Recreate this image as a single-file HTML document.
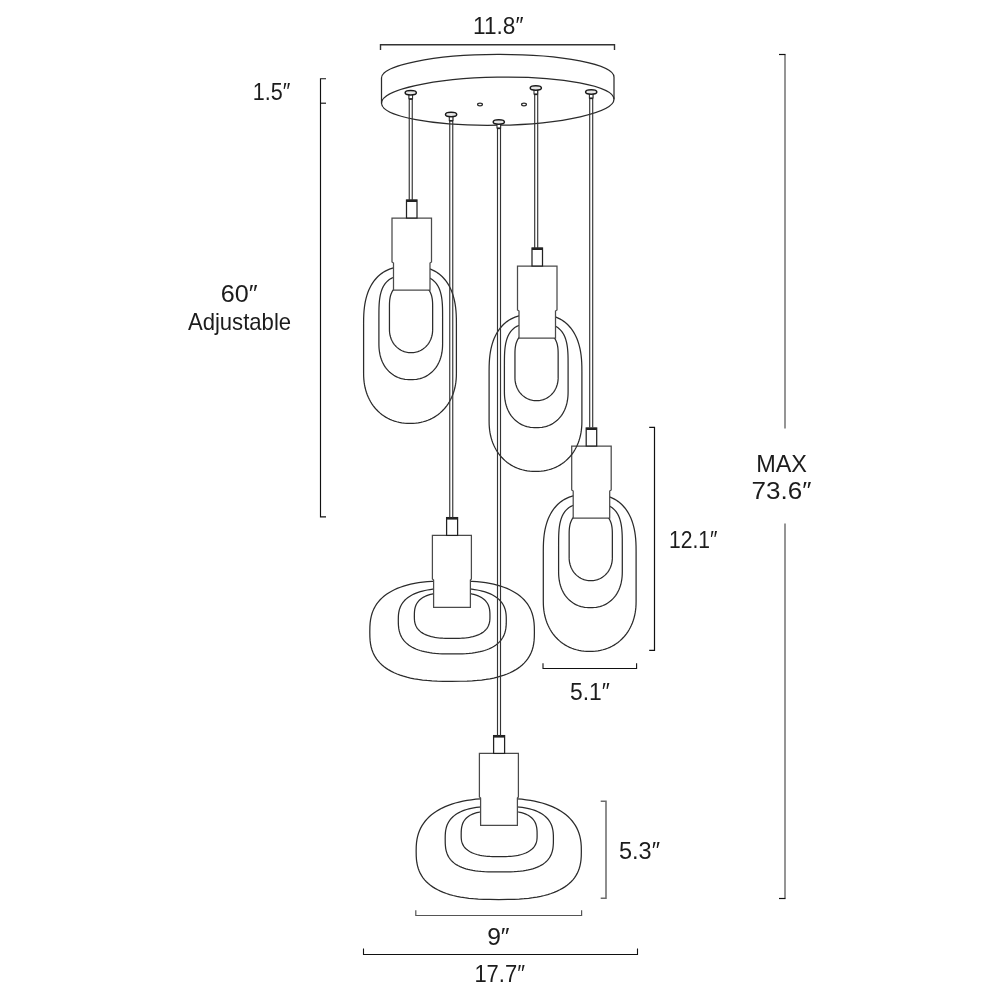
<!DOCTYPE html>
<html><head><meta charset="utf-8"><style>
html,body{margin:0;padding:0;background:#fff;width:1000px;height:1000px;overflow:hidden}
svg{display:block;will-change:transform}
.l{fill:none;stroke:#2b2b2b;stroke-width:1.25}
.s{fill:#fff;stroke:#2b2b2b;stroke-width:1.25}
.r{stroke:#333;stroke-width:1.15}
text{font-family:"Liberation Sans",sans-serif;fill:#1c1c1c}
</style></head><body>
<svg width="1000" height="1000" viewBox="0 0 1000 1000">
<path d="M381.5,103.2 L381.5,78 A116.25,23.15 -0.2 0 1 614,77.2 L614,99.2" class="l" stroke-width="1.4"/>
<ellipse cx="497.75" cy="101.2" rx="116.25" ry="24.05" transform="rotate(-1 497.75 101.2)" class="l" stroke-width="1.4"/>
<ellipse cx="480" cy="104.5" rx="2.4" ry="1.3" class="l" stroke-width="1"/>
<ellipse cx="524" cy="104.5" rx="2.4" ry="1.3" class="l" stroke-width="1"/>
<g transform="translate(0,0)">
<path d="M363.60,323.73 L363.65,318.24 L363.80,314.20 L364.06,310.58 L364.41,307.24 L364.86,304.09 L365.42,301.11 L366.07,298.28 L366.83,295.58 L367.68,293.00 L368.62,290.55 L369.67,288.21 L370.81,285.98 L372.04,283.87 L373.37,281.87 L374.80,279.99 L376.31,278.22 L377.92,276.57 L379.62,275.04 L381.41,273.62 L383.29,272.32 L385.27,271.14 L387.34,270.09 L389.52,269.15 L391.80,268.34 L394.20,267.65 L396.73,267.09 L399.42,266.65 L402.33,266.33 L405.58,266.14 L410.00,266.08 L414.42,266.14 L417.67,266.33 L420.58,266.65 L423.27,267.09 L425.80,267.65 L428.20,268.34 L430.48,269.15 L432.66,270.09 L434.73,271.14 L436.71,272.32 L438.59,273.62 L440.38,275.04 L442.08,276.57 L443.69,278.22 L445.20,279.99 L446.63,281.87 L447.96,283.87 L449.19,285.98 L450.33,288.21 L451.38,290.55 L452.32,293.00 L453.17,295.58 L453.93,298.28 L454.58,301.11 L455.14,304.09 L455.59,307.24 L455.94,310.58 L456.20,314.20 L456.35,318.24 L456.40,323.73 L456.40,373.26 L456.34,376.48 L456.16,379.39 L455.87,382.18 L455.46,384.88 L454.93,387.51 L454.28,390.06 L453.53,392.55 L452.66,394.96 L451.68,397.29 L450.59,399.55 L449.39,401.73 L448.10,403.82 L446.70,405.82 L445.20,407.74 L443.61,409.55 L441.93,411.27 L440.16,412.89 L438.30,414.40 L436.37,415.80 L434.35,417.09 L432.26,418.26 L430.10,419.32 L427.86,420.26 L425.56,421.08 L423.20,421.77 L420.76,422.34 L418.26,422.79 L415.68,423.10 L412.98,423.30 L410.00,423.36 L407.02,423.30 L404.32,423.10 L401.74,422.79 L399.24,422.34 L396.80,421.77 L394.44,421.08 L392.14,420.26 L389.90,419.32 L387.74,418.26 L385.65,417.09 L383.63,415.80 L381.70,414.40 L379.84,412.89 L378.07,411.27 L376.39,409.55 L374.80,407.74 L373.30,405.82 L371.90,403.82 L370.61,401.73 L369.41,399.55 L368.32,397.29 L367.34,394.96 L366.47,392.55 L365.72,390.06 L365.07,387.51 L364.54,384.88 L364.13,382.18 L363.84,379.39 L363.66,376.48 L363.60,373.26 Z" class="l"/>
<path d="M378.90,317.46 L378.93,310.85 L379.01,307.27 L379.15,304.33 L379.34,301.77 L379.58,299.46 L379.89,297.35 L380.24,295.39 L380.66,293.57 L381.12,291.86 L381.65,290.26 L382.23,288.77 L382.86,287.36 L383.56,286.04 L384.31,284.81 L385.12,283.66 L385.99,282.59 L386.93,281.60 L387.92,280.69 L388.99,279.85 L390.13,279.08 L391.34,278.39 L392.63,277.77 L394.01,277.23 L395.50,276.76 L397.10,276.36 L398.85,276.04 L400.80,275.78 L403.02,275.60 L405.74,275.50 L410.75,275.46 L415.76,275.50 L418.48,275.60 L420.70,275.78 L422.65,276.04 L424.40,276.36 L426.00,276.76 L427.49,277.23 L428.87,277.77 L430.16,278.39 L431.37,279.08 L432.51,279.85 L433.58,280.69 L434.57,281.60 L435.51,282.59 L436.38,283.66 L437.19,284.81 L437.94,286.04 L438.64,287.36 L439.27,288.77 L439.85,290.26 L440.38,291.86 L440.84,293.57 L441.26,295.39 L441.61,297.35 L441.92,299.46 L442.16,301.77 L442.35,304.33 L442.49,307.27 L442.57,310.85 L442.60,317.46 L442.60,343.58 L442.56,346.05 L442.44,348.21 L442.24,350.26 L441.97,352.24 L441.61,354.14 L441.18,355.99 L440.67,357.78 L440.09,359.51 L439.43,361.19 L438.70,362.80 L437.89,364.36 L437.02,365.85 L436.08,367.28 L435.07,368.63 L433.99,369.92 L432.85,371.14 L431.66,372.29 L430.40,373.35 L429.08,374.34 L427.71,375.26 L426.29,376.08 L424.81,376.83 L423.28,377.49 L421.70,378.07 L420.07,378.56 L418.39,378.96 L416.65,379.28 L414.84,379.50 L412.93,379.64 L410.75,379.68 L408.57,379.64 L406.66,379.50 L404.85,379.28 L403.11,378.96 L401.43,378.56 L399.80,378.07 L398.22,377.49 L396.69,376.83 L395.21,376.08 L393.79,375.26 L392.42,374.34 L391.10,373.35 L389.84,372.29 L388.65,371.14 L387.51,369.92 L386.43,368.63 L385.42,367.28 L384.48,365.85 L383.61,364.36 L382.80,362.80 L382.07,361.19 L381.41,359.51 L380.83,357.78 L380.32,355.99 L379.89,354.14 L379.53,352.24 L379.26,350.26 L379.06,348.21 L378.94,346.05 L378.90,343.58 Z" class="l"/>
<path d="M389.45,306.56 L389.47,303.95 L389.54,302.21 L389.65,300.69 L389.80,299.32 L390.00,298.04 L390.24,296.85 L390.52,295.72 L390.85,294.66 L391.22,293.65 L391.63,292.69 L392.09,291.78 L392.59,290.92 L393.13,290.11 L393.71,289.35 L394.34,288.63 L395.01,287.96 L395.72,287.33 L396.48,286.75 L397.28,286.21 L398.12,285.72 L399.02,285.28 L399.96,284.88 L400.95,284.53 L402.00,284.23 L403.11,283.97 L404.30,283.76 L405.58,283.59 L407.00,283.47 L408.62,283.40 L411.05,283.38 L413.48,283.40 L415.10,283.47 L416.52,283.59 L417.80,283.76 L418.99,283.97 L420.10,284.23 L421.15,284.53 L422.14,284.88 L423.08,285.28 L423.98,285.72 L424.82,286.21 L425.62,286.75 L426.38,287.33 L427.09,287.96 L427.76,288.63 L428.39,289.35 L428.97,290.11 L429.51,290.92 L430.01,291.78 L430.47,292.69 L430.88,293.65 L431.25,294.66 L431.58,295.72 L431.86,296.85 L432.10,298.04 L432.30,299.32 L432.45,300.69 L432.56,302.21 L432.63,303.95 L432.65,306.56 L432.65,329.58 L432.62,330.88 L432.53,332.13 L432.39,333.36 L432.19,334.57 L431.93,335.76 L431.62,336.93 L431.25,338.07 L430.83,339.18 L430.35,340.27 L429.82,341.33 L429.24,342.35 L428.62,343.33 L427.94,344.28 L427.22,345.19 L426.45,346.05 L425.65,346.87 L424.80,347.64 L423.91,348.37 L422.99,349.04 L422.03,349.66 L421.05,350.22 L420.03,350.73 L418.99,351.18 L417.92,351.58 L416.83,351.91 L415.72,352.19 L414.59,352.40 L413.44,352.56 L412.26,352.65 L411.05,352.68 L409.84,352.65 L408.66,352.56 L407.51,352.40 L406.38,352.19 L405.27,351.91 L404.18,351.58 L403.11,351.18 L402.07,350.73 L401.05,350.22 L400.07,349.66 L399.11,349.04 L398.19,348.37 L397.30,347.64 L396.45,346.87 L395.65,346.05 L394.88,345.19 L394.16,344.28 L393.48,343.33 L392.86,342.35 L392.28,341.33 L391.75,340.27 L391.27,339.18 L390.85,338.07 L390.48,336.93 L390.17,335.76 L389.91,334.57 L389.71,333.36 L389.57,332.13 L389.48,330.88 L389.45,329.58 Z" class="l"/>
<path d="M392,262 L392,218 L431.5,218 L431.5,262 L430,263 L430,290 L393.5,290 L393.5,263 Z" class="s" stroke="#4a4a4a" style="stroke:#4a4a4a"/>
<rect x="406.5" y="200" width="10.5" height="18" class="s" style="stroke:#222;stroke-width:1.25"/>
<line x1="406.5" y1="200.9" x2="417" y2="200.9" stroke="#222" stroke-width="2.2"/>
</g>
<path d="M369.80,632.00 L369.89,626.61 L370.14,622.87 L370.57,619.58 L371.18,616.56 L371.95,613.75 L372.89,611.11 L374.01,608.61 L375.29,606.23 L376.74,603.98 L378.36,601.84 L380.14,599.80 L382.09,597.87 L384.21,596.05 L386.49,594.32 L388.93,592.70 L391.54,591.18 L394.31,589.76 L397.24,588.45 L400.34,587.23 L403.62,586.12 L407.06,585.12 L410.68,584.21 L414.50,583.42 L418.52,582.72 L422.77,582.14 L427.29,581.66 L432.13,581.28 L437.42,581.01 L443.44,580.85 L452.10,580.80 L460.76,580.85 L466.78,581.01 L472.07,581.28 L476.91,581.66 L481.43,582.14 L485.68,582.72 L489.70,583.42 L493.52,584.21 L497.14,585.12 L500.58,586.12 L503.86,587.23 L506.96,588.45 L509.89,589.76 L512.66,591.18 L515.27,592.70 L517.71,594.32 L519.99,596.05 L522.11,597.87 L524.06,599.80 L525.84,601.84 L527.46,603.98 L528.91,606.23 L530.19,608.61 L531.31,611.11 L532.25,613.75 L533.02,616.56 L533.63,619.58 L534.06,622.87 L534.31,626.61 L534.40,632.00 L534.40,632.00 L534.31,637.28 L534.06,640.91 L533.63,644.09 L533.03,647.00 L532.27,649.71 L531.33,652.25 L530.22,654.66 L528.95,656.94 L527.51,659.10 L525.90,661.16 L524.13,663.11 L522.19,664.96 L520.09,666.71 L517.82,668.36 L515.40,669.92 L512.80,671.37 L510.05,672.73 L507.13,673.99 L504.04,675.15 L500.78,676.21 L497.35,677.17 L493.73,678.04 L489.92,678.80 L485.91,679.46 L481.66,680.02 L477.14,680.48 L472.29,680.84 L466.97,681.10 L460.91,681.25 L452.10,681.30 L443.29,681.25 L437.23,681.10 L431.91,680.84 L427.06,680.48 L422.54,680.02 L418.29,679.46 L414.28,678.80 L410.47,678.04 L406.85,677.17 L403.42,676.21 L400.16,675.15 L397.07,673.99 L394.15,672.73 L391.40,671.37 L388.80,669.92 L386.38,668.36 L384.11,666.71 L382.01,664.96 L380.07,663.11 L378.30,661.16 L376.69,659.10 L375.25,656.94 L373.98,654.66 L372.87,652.25 L371.93,649.71 L371.17,647.00 L370.57,644.09 L370.14,640.91 L369.89,637.28 L369.80,632.00 Z" class="l"/>
<path d="M398.30,620.10 L398.36,616.68 L398.52,614.33 L398.80,612.28 L399.19,610.41 L399.69,608.67 L400.31,607.03 L401.03,605.49 L401.86,604.02 L402.80,602.63 L403.86,601.31 L405.01,600.06 L406.28,598.87 L407.66,597.75 L409.14,596.69 L410.73,595.70 L412.42,594.76 L414.23,593.89 L416.14,593.09 L418.16,592.34 L420.30,591.66 L422.54,591.04 L424.91,590.49 L427.41,590.00 L430.04,589.58 L432.83,589.22 L435.80,588.92 L438.98,588.69 L442.48,588.53 L446.47,588.43 L452.30,588.40 L458.13,588.43 L462.12,588.53 L465.62,588.69 L468.80,588.92 L471.77,589.22 L474.56,589.58 L477.19,590.00 L479.69,590.49 L482.06,591.04 L484.30,591.66 L486.44,592.34 L488.46,593.09 L490.37,593.89 L492.18,594.76 L493.87,595.70 L495.46,596.69 L496.94,597.75 L498.32,598.87 L499.59,600.06 L500.74,601.31 L501.80,602.63 L502.74,604.02 L503.57,605.49 L504.29,607.03 L504.91,608.67 L505.41,610.41 L505.80,612.28 L506.08,614.33 L506.24,616.68 L506.30,620.10 L506.30,620.10 L506.25,623.90 L506.08,626.44 L505.81,628.65 L505.42,630.66 L504.93,632.52 L504.33,634.26 L503.62,635.90 L502.80,637.46 L501.88,638.93 L500.84,640.33 L499.70,641.65 L498.45,642.90 L497.10,644.08 L495.64,645.20 L494.07,646.25 L492.40,647.23 L490.62,648.14 L488.73,648.99 L486.73,649.77 L484.62,650.48 L482.39,651.13 L480.03,651.71 L477.55,652.22 L474.93,652.67 L472.14,653.04 L469.17,653.35 L465.96,653.59 L462.44,653.76 L458.37,653.87 L452.30,653.90 L446.23,653.87 L442.16,653.76 L438.64,653.59 L435.43,653.35 L432.46,653.04 L429.67,652.67 L427.05,652.22 L424.57,651.71 L422.21,651.13 L419.98,650.48 L417.87,649.77 L415.87,648.99 L413.98,648.14 L412.20,647.23 L410.53,646.25 L408.96,645.20 L407.50,644.08 L406.15,642.90 L404.90,641.65 L403.76,640.33 L402.72,638.93 L401.80,637.46 L400.98,635.90 L400.27,634.26 L399.67,632.52 L399.18,630.66 L398.79,628.65 L398.52,626.44 L398.35,623.90 L398.30,620.10 Z" class="l"/>
<path d="M414.35,616.40 L414.39,613.40 L414.50,611.52 L414.68,609.93 L414.93,608.50 L415.26,607.18 L415.66,605.96 L416.13,604.82 L416.67,603.74 L417.29,602.73 L417.98,601.77 L418.74,600.86 L419.57,600.01 L420.48,599.20 L421.46,598.45 L422.51,597.74 L423.64,597.08 L424.84,596.46 L426.12,595.89 L427.47,595.36 L428.91,594.89 L430.43,594.45 L432.04,594.06 L433.75,593.72 L435.57,593.42 L437.51,593.17 L439.60,592.97 L441.87,592.81 L444.40,592.69 L447.38,592.62 L452.15,592.60 L456.92,592.62 L459.90,592.69 L462.43,592.81 L464.70,592.97 L466.79,593.17 L468.73,593.42 L470.55,593.72 L472.26,594.06 L473.87,594.45 L475.39,594.89 L476.83,595.36 L478.18,595.89 L479.46,596.46 L480.66,597.08 L481.79,597.74 L482.84,598.45 L483.82,599.20 L484.73,600.01 L485.56,600.86 L486.32,601.77 L487.01,602.73 L487.63,603.74 L488.17,604.82 L488.64,605.96 L489.04,607.18 L489.37,608.50 L489.62,609.93 L489.80,611.52 L489.91,613.40 L489.95,616.40 L489.95,616.40 L489.91,618.77 L489.79,620.40 L489.60,621.82 L489.32,623.12 L488.97,624.33 L488.55,625.47 L488.04,626.54 L487.46,627.56 L486.80,628.52 L486.06,629.44 L485.25,630.31 L484.36,631.13 L483.40,631.91 L482.36,632.65 L481.25,633.34 L480.06,633.98 L478.80,634.59 L477.46,635.15 L476.05,635.66 L474.55,636.14 L472.98,636.56 L471.32,636.95 L469.57,637.29 L467.73,637.58 L465.78,637.83 L463.70,638.04 L461.47,638.20 L459.03,638.31 L456.23,638.38 L452.15,638.40 L448.07,638.38 L445.27,638.31 L442.83,638.20 L440.60,638.04 L438.52,637.83 L436.57,637.58 L434.73,637.29 L432.98,636.95 L431.32,636.56 L429.75,636.14 L428.25,635.66 L426.84,635.15 L425.50,634.59 L424.24,633.98 L423.05,633.34 L421.94,632.65 L420.90,631.91 L419.94,631.13 L419.05,630.31 L418.24,629.44 L417.50,628.52 L416.84,627.56 L416.26,626.54 L415.75,625.47 L415.33,624.33 L414.98,623.12 L414.70,621.82 L414.51,620.40 L414.39,618.77 L414.35,616.40 Z" class="l"/>
<g transform="translate(0,0)">
<path d="M432.4,579 L432.4,535.4 L471.4,535.4 L471.4,579 L470.4,580 L470.4,607.4 L433.6,607.4 L433.6,580 Z" class="s" stroke="#4a4a4a" style="stroke:#4a4a4a"/>
<rect x="446.6" y="517.6" width="11.0" height="17.799999999999955" class="s" style="stroke:#222;stroke-width:1.25"/>
<line x1="446.6" y1="518.5" x2="457.6" y2="518.5" stroke="#222" stroke-width="2.2"/>
</g>
<g transform="translate(179.7,228)">
<path d="M363.60,323.73 L363.65,318.24 L363.80,314.20 L364.06,310.58 L364.41,307.24 L364.86,304.09 L365.42,301.11 L366.07,298.28 L366.83,295.58 L367.68,293.00 L368.62,290.55 L369.67,288.21 L370.81,285.98 L372.04,283.87 L373.37,281.87 L374.80,279.99 L376.31,278.22 L377.92,276.57 L379.62,275.04 L381.41,273.62 L383.29,272.32 L385.27,271.14 L387.34,270.09 L389.52,269.15 L391.80,268.34 L394.20,267.65 L396.73,267.09 L399.42,266.65 L402.33,266.33 L405.58,266.14 L410.00,266.08 L414.42,266.14 L417.67,266.33 L420.58,266.65 L423.27,267.09 L425.80,267.65 L428.20,268.34 L430.48,269.15 L432.66,270.09 L434.73,271.14 L436.71,272.32 L438.59,273.62 L440.38,275.04 L442.08,276.57 L443.69,278.22 L445.20,279.99 L446.63,281.87 L447.96,283.87 L449.19,285.98 L450.33,288.21 L451.38,290.55 L452.32,293.00 L453.17,295.58 L453.93,298.28 L454.58,301.11 L455.14,304.09 L455.59,307.24 L455.94,310.58 L456.20,314.20 L456.35,318.24 L456.40,323.73 L456.40,373.26 L456.34,376.48 L456.16,379.39 L455.87,382.18 L455.46,384.88 L454.93,387.51 L454.28,390.06 L453.53,392.55 L452.66,394.96 L451.68,397.29 L450.59,399.55 L449.39,401.73 L448.10,403.82 L446.70,405.82 L445.20,407.74 L443.61,409.55 L441.93,411.27 L440.16,412.89 L438.30,414.40 L436.37,415.80 L434.35,417.09 L432.26,418.26 L430.10,419.32 L427.86,420.26 L425.56,421.08 L423.20,421.77 L420.76,422.34 L418.26,422.79 L415.68,423.10 L412.98,423.30 L410.00,423.36 L407.02,423.30 L404.32,423.10 L401.74,422.79 L399.24,422.34 L396.80,421.77 L394.44,421.08 L392.14,420.26 L389.90,419.32 L387.74,418.26 L385.65,417.09 L383.63,415.80 L381.70,414.40 L379.84,412.89 L378.07,411.27 L376.39,409.55 L374.80,407.74 L373.30,405.82 L371.90,403.82 L370.61,401.73 L369.41,399.55 L368.32,397.29 L367.34,394.96 L366.47,392.55 L365.72,390.06 L365.07,387.51 L364.54,384.88 L364.13,382.18 L363.84,379.39 L363.66,376.48 L363.60,373.26 Z" class="l"/>
<path d="M378.90,317.46 L378.93,310.85 L379.01,307.27 L379.15,304.33 L379.34,301.77 L379.58,299.46 L379.89,297.35 L380.24,295.39 L380.66,293.57 L381.12,291.86 L381.65,290.26 L382.23,288.77 L382.86,287.36 L383.56,286.04 L384.31,284.81 L385.12,283.66 L385.99,282.59 L386.93,281.60 L387.92,280.69 L388.99,279.85 L390.13,279.08 L391.34,278.39 L392.63,277.77 L394.01,277.23 L395.50,276.76 L397.10,276.36 L398.85,276.04 L400.80,275.78 L403.02,275.60 L405.74,275.50 L410.75,275.46 L415.76,275.50 L418.48,275.60 L420.70,275.78 L422.65,276.04 L424.40,276.36 L426.00,276.76 L427.49,277.23 L428.87,277.77 L430.16,278.39 L431.37,279.08 L432.51,279.85 L433.58,280.69 L434.57,281.60 L435.51,282.59 L436.38,283.66 L437.19,284.81 L437.94,286.04 L438.64,287.36 L439.27,288.77 L439.85,290.26 L440.38,291.86 L440.84,293.57 L441.26,295.39 L441.61,297.35 L441.92,299.46 L442.16,301.77 L442.35,304.33 L442.49,307.27 L442.57,310.85 L442.60,317.46 L442.60,343.58 L442.56,346.05 L442.44,348.21 L442.24,350.26 L441.97,352.24 L441.61,354.14 L441.18,355.99 L440.67,357.78 L440.09,359.51 L439.43,361.19 L438.70,362.80 L437.89,364.36 L437.02,365.85 L436.08,367.28 L435.07,368.63 L433.99,369.92 L432.85,371.14 L431.66,372.29 L430.40,373.35 L429.08,374.34 L427.71,375.26 L426.29,376.08 L424.81,376.83 L423.28,377.49 L421.70,378.07 L420.07,378.56 L418.39,378.96 L416.65,379.28 L414.84,379.50 L412.93,379.64 L410.75,379.68 L408.57,379.64 L406.66,379.50 L404.85,379.28 L403.11,378.96 L401.43,378.56 L399.80,378.07 L398.22,377.49 L396.69,376.83 L395.21,376.08 L393.79,375.26 L392.42,374.34 L391.10,373.35 L389.84,372.29 L388.65,371.14 L387.51,369.92 L386.43,368.63 L385.42,367.28 L384.48,365.85 L383.61,364.36 L382.80,362.80 L382.07,361.19 L381.41,359.51 L380.83,357.78 L380.32,355.99 L379.89,354.14 L379.53,352.24 L379.26,350.26 L379.06,348.21 L378.94,346.05 L378.90,343.58 Z" class="l"/>
<path d="M389.45,306.56 L389.47,303.95 L389.54,302.21 L389.65,300.69 L389.80,299.32 L390.00,298.04 L390.24,296.85 L390.52,295.72 L390.85,294.66 L391.22,293.65 L391.63,292.69 L392.09,291.78 L392.59,290.92 L393.13,290.11 L393.71,289.35 L394.34,288.63 L395.01,287.96 L395.72,287.33 L396.48,286.75 L397.28,286.21 L398.12,285.72 L399.02,285.28 L399.96,284.88 L400.95,284.53 L402.00,284.23 L403.11,283.97 L404.30,283.76 L405.58,283.59 L407.00,283.47 L408.62,283.40 L411.05,283.38 L413.48,283.40 L415.10,283.47 L416.52,283.59 L417.80,283.76 L418.99,283.97 L420.10,284.23 L421.15,284.53 L422.14,284.88 L423.08,285.28 L423.98,285.72 L424.82,286.21 L425.62,286.75 L426.38,287.33 L427.09,287.96 L427.76,288.63 L428.39,289.35 L428.97,290.11 L429.51,290.92 L430.01,291.78 L430.47,292.69 L430.88,293.65 L431.25,294.66 L431.58,295.72 L431.86,296.85 L432.10,298.04 L432.30,299.32 L432.45,300.69 L432.56,302.21 L432.63,303.95 L432.65,306.56 L432.65,329.58 L432.62,330.88 L432.53,332.13 L432.39,333.36 L432.19,334.57 L431.93,335.76 L431.62,336.93 L431.25,338.07 L430.83,339.18 L430.35,340.27 L429.82,341.33 L429.24,342.35 L428.62,343.33 L427.94,344.28 L427.22,345.19 L426.45,346.05 L425.65,346.87 L424.80,347.64 L423.91,348.37 L422.99,349.04 L422.03,349.66 L421.05,350.22 L420.03,350.73 L418.99,351.18 L417.92,351.58 L416.83,351.91 L415.72,352.19 L414.59,352.40 L413.44,352.56 L412.26,352.65 L411.05,352.68 L409.84,352.65 L408.66,352.56 L407.51,352.40 L406.38,352.19 L405.27,351.91 L404.18,351.58 L403.11,351.18 L402.07,350.73 L401.05,350.22 L400.07,349.66 L399.11,349.04 L398.19,348.37 L397.30,347.64 L396.45,346.87 L395.65,346.05 L394.88,345.19 L394.16,344.28 L393.48,343.33 L392.86,342.35 L392.28,341.33 L391.75,340.27 L391.27,339.18 L390.85,338.07 L390.48,336.93 L390.17,335.76 L389.91,334.57 L389.71,333.36 L389.57,332.13 L389.48,330.88 L389.45,329.58 Z" class="l"/>
<path d="M392,262 L392,218 L431.5,218 L431.5,262 L430,263 L430,290 L393.5,290 L393.5,263 Z" class="s" stroke="#4a4a4a" style="stroke:#4a4a4a"/>
<rect x="406.5" y="200" width="10.5" height="18" class="s" style="stroke:#222;stroke-width:1.25"/>
<line x1="406.5" y1="200.9" x2="417" y2="200.9" stroke="#222" stroke-width="2.2"/>
</g>
<g transform="translate(125.5,48)">
<path d="M363.60,323.73 L363.65,318.24 L363.80,314.20 L364.06,310.58 L364.41,307.24 L364.86,304.09 L365.42,301.11 L366.07,298.28 L366.83,295.58 L367.68,293.00 L368.62,290.55 L369.67,288.21 L370.81,285.98 L372.04,283.87 L373.37,281.87 L374.80,279.99 L376.31,278.22 L377.92,276.57 L379.62,275.04 L381.41,273.62 L383.29,272.32 L385.27,271.14 L387.34,270.09 L389.52,269.15 L391.80,268.34 L394.20,267.65 L396.73,267.09 L399.42,266.65 L402.33,266.33 L405.58,266.14 L410.00,266.08 L414.42,266.14 L417.67,266.33 L420.58,266.65 L423.27,267.09 L425.80,267.65 L428.20,268.34 L430.48,269.15 L432.66,270.09 L434.73,271.14 L436.71,272.32 L438.59,273.62 L440.38,275.04 L442.08,276.57 L443.69,278.22 L445.20,279.99 L446.63,281.87 L447.96,283.87 L449.19,285.98 L450.33,288.21 L451.38,290.55 L452.32,293.00 L453.17,295.58 L453.93,298.28 L454.58,301.11 L455.14,304.09 L455.59,307.24 L455.94,310.58 L456.20,314.20 L456.35,318.24 L456.40,323.73 L456.40,373.26 L456.34,376.48 L456.16,379.39 L455.87,382.18 L455.46,384.88 L454.93,387.51 L454.28,390.06 L453.53,392.55 L452.66,394.96 L451.68,397.29 L450.59,399.55 L449.39,401.73 L448.10,403.82 L446.70,405.82 L445.20,407.74 L443.61,409.55 L441.93,411.27 L440.16,412.89 L438.30,414.40 L436.37,415.80 L434.35,417.09 L432.26,418.26 L430.10,419.32 L427.86,420.26 L425.56,421.08 L423.20,421.77 L420.76,422.34 L418.26,422.79 L415.68,423.10 L412.98,423.30 L410.00,423.36 L407.02,423.30 L404.32,423.10 L401.74,422.79 L399.24,422.34 L396.80,421.77 L394.44,421.08 L392.14,420.26 L389.90,419.32 L387.74,418.26 L385.65,417.09 L383.63,415.80 L381.70,414.40 L379.84,412.89 L378.07,411.27 L376.39,409.55 L374.80,407.74 L373.30,405.82 L371.90,403.82 L370.61,401.73 L369.41,399.55 L368.32,397.29 L367.34,394.96 L366.47,392.55 L365.72,390.06 L365.07,387.51 L364.54,384.88 L364.13,382.18 L363.84,379.39 L363.66,376.48 L363.60,373.26 Z" class="l"/>
<path d="M378.90,317.46 L378.93,310.85 L379.01,307.27 L379.15,304.33 L379.34,301.77 L379.58,299.46 L379.89,297.35 L380.24,295.39 L380.66,293.57 L381.12,291.86 L381.65,290.26 L382.23,288.77 L382.86,287.36 L383.56,286.04 L384.31,284.81 L385.12,283.66 L385.99,282.59 L386.93,281.60 L387.92,280.69 L388.99,279.85 L390.13,279.08 L391.34,278.39 L392.63,277.77 L394.01,277.23 L395.50,276.76 L397.10,276.36 L398.85,276.04 L400.80,275.78 L403.02,275.60 L405.74,275.50 L410.75,275.46 L415.76,275.50 L418.48,275.60 L420.70,275.78 L422.65,276.04 L424.40,276.36 L426.00,276.76 L427.49,277.23 L428.87,277.77 L430.16,278.39 L431.37,279.08 L432.51,279.85 L433.58,280.69 L434.57,281.60 L435.51,282.59 L436.38,283.66 L437.19,284.81 L437.94,286.04 L438.64,287.36 L439.27,288.77 L439.85,290.26 L440.38,291.86 L440.84,293.57 L441.26,295.39 L441.61,297.35 L441.92,299.46 L442.16,301.77 L442.35,304.33 L442.49,307.27 L442.57,310.85 L442.60,317.46 L442.60,343.58 L442.56,346.05 L442.44,348.21 L442.24,350.26 L441.97,352.24 L441.61,354.14 L441.18,355.99 L440.67,357.78 L440.09,359.51 L439.43,361.19 L438.70,362.80 L437.89,364.36 L437.02,365.85 L436.08,367.28 L435.07,368.63 L433.99,369.92 L432.85,371.14 L431.66,372.29 L430.40,373.35 L429.08,374.34 L427.71,375.26 L426.29,376.08 L424.81,376.83 L423.28,377.49 L421.70,378.07 L420.07,378.56 L418.39,378.96 L416.65,379.28 L414.84,379.50 L412.93,379.64 L410.75,379.68 L408.57,379.64 L406.66,379.50 L404.85,379.28 L403.11,378.96 L401.43,378.56 L399.80,378.07 L398.22,377.49 L396.69,376.83 L395.21,376.08 L393.79,375.26 L392.42,374.34 L391.10,373.35 L389.84,372.29 L388.65,371.14 L387.51,369.92 L386.43,368.63 L385.42,367.28 L384.48,365.85 L383.61,364.36 L382.80,362.80 L382.07,361.19 L381.41,359.51 L380.83,357.78 L380.32,355.99 L379.89,354.14 L379.53,352.24 L379.26,350.26 L379.06,348.21 L378.94,346.05 L378.90,343.58 Z" class="l"/>
<path d="M389.45,306.56 L389.47,303.95 L389.54,302.21 L389.65,300.69 L389.80,299.32 L390.00,298.04 L390.24,296.85 L390.52,295.72 L390.85,294.66 L391.22,293.65 L391.63,292.69 L392.09,291.78 L392.59,290.92 L393.13,290.11 L393.71,289.35 L394.34,288.63 L395.01,287.96 L395.72,287.33 L396.48,286.75 L397.28,286.21 L398.12,285.72 L399.02,285.28 L399.96,284.88 L400.95,284.53 L402.00,284.23 L403.11,283.97 L404.30,283.76 L405.58,283.59 L407.00,283.47 L408.62,283.40 L411.05,283.38 L413.48,283.40 L415.10,283.47 L416.52,283.59 L417.80,283.76 L418.99,283.97 L420.10,284.23 L421.15,284.53 L422.14,284.88 L423.08,285.28 L423.98,285.72 L424.82,286.21 L425.62,286.75 L426.38,287.33 L427.09,287.96 L427.76,288.63 L428.39,289.35 L428.97,290.11 L429.51,290.92 L430.01,291.78 L430.47,292.69 L430.88,293.65 L431.25,294.66 L431.58,295.72 L431.86,296.85 L432.10,298.04 L432.30,299.32 L432.45,300.69 L432.56,302.21 L432.63,303.95 L432.65,306.56 L432.65,329.58 L432.62,330.88 L432.53,332.13 L432.39,333.36 L432.19,334.57 L431.93,335.76 L431.62,336.93 L431.25,338.07 L430.83,339.18 L430.35,340.27 L429.82,341.33 L429.24,342.35 L428.62,343.33 L427.94,344.28 L427.22,345.19 L426.45,346.05 L425.65,346.87 L424.80,347.64 L423.91,348.37 L422.99,349.04 L422.03,349.66 L421.05,350.22 L420.03,350.73 L418.99,351.18 L417.92,351.58 L416.83,351.91 L415.72,352.19 L414.59,352.40 L413.44,352.56 L412.26,352.65 L411.05,352.68 L409.84,352.65 L408.66,352.56 L407.51,352.40 L406.38,352.19 L405.27,351.91 L404.18,351.58 L403.11,351.18 L402.07,350.73 L401.05,350.22 L400.07,349.66 L399.11,349.04 L398.19,348.37 L397.30,347.64 L396.45,346.87 L395.65,346.05 L394.88,345.19 L394.16,344.28 L393.48,343.33 L392.86,342.35 L392.28,341.33 L391.75,340.27 L391.27,339.18 L390.85,338.07 L390.48,336.93 L390.17,335.76 L389.91,334.57 L389.71,333.36 L389.57,332.13 L389.48,330.88 L389.45,329.58 Z" class="l"/>
<path d="M392,262 L392,218 L431.5,218 L431.5,262 L430,263 L430,290 L393.5,290 L393.5,263 Z" class="s" stroke="#4a4a4a" style="stroke:#4a4a4a"/>
<rect x="406.5" y="200" width="10.5" height="18" class="s" style="stroke:#222;stroke-width:1.25"/>
<line x1="406.5" y1="200.9" x2="417" y2="200.9" stroke="#222" stroke-width="2.2"/>
</g>
<path d="M416.15,850.96 L416.24,846.20 L416.52,842.60 L416.98,839.35 L417.62,836.32 L418.45,833.46 L419.46,830.73 L420.65,828.14 L422.02,825.66 L423.56,823.29 L425.29,821.02 L427.18,818.86 L429.25,816.80 L431.49,814.85 L433.90,813.00 L436.48,811.25 L439.22,809.61 L442.12,808.07 L445.18,806.65 L448.41,805.33 L451.80,804.12 L455.35,803.02 L459.07,802.03 L462.96,801.16 L467.03,800.40 L471.30,799.76 L475.79,799.23 L480.54,798.82 L485.64,798.53 L491.29,798.35 L498.75,798.29 L506.21,798.35 L511.86,798.53 L516.96,798.82 L521.71,799.23 L526.20,799.76 L530.47,800.40 L534.54,801.16 L538.43,802.03 L542.15,803.02 L545.70,804.12 L549.09,805.33 L552.32,806.65 L555.38,808.07 L558.28,809.61 L561.02,811.25 L563.60,813.00 L566.01,814.85 L568.25,816.80 L570.32,818.86 L572.21,821.02 L573.94,823.29 L575.48,825.66 L576.85,828.14 L578.04,830.73 L579.05,833.46 L579.88,836.32 L580.52,839.35 L580.98,842.60 L581.26,846.20 L581.35,850.96 L581.35,850.96 L581.26,856.25 L581.01,859.85 L580.58,863.00 L579.99,865.87 L579.22,868.54 L578.29,871.05 L577.19,873.41 L575.92,875.66 L574.48,877.78 L572.88,879.80 L571.12,881.72 L569.18,883.53 L567.09,885.25 L564.83,886.87 L562.40,888.39 L559.81,889.81 L557.06,891.14 L554.14,892.38 L551.06,893.51 L547.80,894.55 L544.37,895.49 L540.75,896.34 L536.93,897.08 L532.91,897.73 L528.65,898.28 L524.11,898.73 L519.22,899.08 L513.87,899.33 L507.74,899.48 L498.75,899.53 L489.76,899.48 L483.63,899.33 L478.28,899.08 L473.39,898.73 L468.85,898.28 L464.59,897.73 L460.57,897.08 L456.75,896.34 L453.13,895.49 L449.70,894.55 L446.44,893.51 L443.36,892.38 L440.44,891.14 L437.69,889.81 L435.10,888.39 L432.67,886.87 L430.41,885.25 L428.32,883.53 L426.38,881.72 L424.62,879.80 L423.02,877.78 L421.58,875.66 L420.31,873.41 L419.21,871.05 L418.28,868.54 L417.51,865.87 L416.92,863.00 L416.49,859.85 L416.24,856.25 L416.15,850.96 Z" class="l"/>
<path d="M445.19,838.96 L445.24,835.16 L445.41,832.66 L445.68,830.50 L446.06,828.55 L446.54,826.75 L447.13,825.07 L447.84,823.48 L448.64,821.98 L449.56,820.57 L450.58,819.22 L451.71,817.95 L452.94,816.75 L454.28,815.62 L455.72,814.55 L457.28,813.55 L458.93,812.61 L460.70,811.74 L462.58,810.93 L464.56,810.18 L466.66,809.50 L468.88,808.88 L471.23,808.33 L473.70,807.84 L476.32,807.42 L479.11,807.06 L482.09,806.76 L485.32,806.53 L488.88,806.37 L493.01,806.27 L499.30,806.24 L505.59,806.27 L509.72,806.37 L513.28,806.53 L516.51,806.76 L519.49,807.06 L522.28,807.42 L524.90,807.84 L527.37,808.33 L529.72,808.88 L531.94,809.50 L534.04,810.18 L536.02,810.93 L537.90,811.74 L539.67,812.61 L541.32,813.55 L542.88,814.55 L544.32,815.62 L545.66,816.75 L546.89,817.95 L548.02,819.22 L549.04,820.57 L549.96,821.98 L550.76,823.48 L551.47,825.07 L552.06,826.75 L552.54,828.55 L552.92,830.50 L553.19,832.66 L553.36,835.16 L553.41,838.96 L553.41,838.96 L553.36,843.20 L553.20,845.82 L552.95,848.04 L552.58,850.03 L552.12,851.85 L551.55,853.54 L550.88,855.13 L550.11,856.61 L549.24,858.02 L548.26,859.34 L547.18,860.59 L545.99,861.77 L544.71,862.88 L543.31,863.92 L541.82,864.90 L540.22,865.81 L538.51,866.66 L536.69,867.44 L534.76,868.17 L532.71,868.83 L530.54,869.42 L528.24,869.96 L525.80,870.43 L523.20,870.84 L520.43,871.18 L517.45,871.47 L514.19,871.69 L510.55,871.84 L506.25,871.94 L499.30,871.97 L492.35,871.94 L488.05,871.84 L484.41,871.69 L481.15,871.47 L478.17,871.18 L475.40,870.84 L472.80,870.43 L470.36,869.96 L468.06,869.42 L465.89,868.83 L463.84,868.17 L461.91,867.44 L460.09,866.66 L458.38,865.81 L456.78,864.90 L455.29,863.92 L453.89,862.88 L452.61,861.77 L451.42,860.59 L450.34,859.34 L449.36,858.02 L448.49,856.61 L447.72,855.13 L447.05,853.54 L446.48,851.85 L446.02,850.03 L445.65,848.04 L445.40,845.82 L445.24,843.20 L445.19,838.96 Z" class="l"/>
<path d="M461.18,835.57 L461.21,832.12 L461.32,830.09 L461.49,828.40 L461.74,826.91 L462.05,825.55 L462.43,824.29 L462.88,823.12 L463.40,822.02 L463.99,820.99 L464.65,820.02 L465.38,819.11 L466.18,818.25 L467.05,817.45 L468.00,816.69 L469.01,815.98 L470.10,815.32 L471.27,814.71 L472.51,814.14 L473.83,813.62 L475.23,813.15 L476.72,812.72 L478.31,812.33 L479.99,812.00 L481.79,811.70 L483.73,811.45 L485.82,811.25 L488.13,811.09 L490.72,810.98 L493.84,810.91 L499.15,810.89 L504.46,810.91 L507.58,810.98 L510.17,811.09 L512.48,811.25 L514.57,811.45 L516.51,811.70 L518.31,812.00 L519.99,812.33 L521.58,812.72 L523.07,813.15 L524.47,813.62 L525.79,814.14 L527.03,814.71 L528.20,815.32 L529.29,815.98 L530.30,816.69 L531.25,817.45 L532.12,818.25 L532.92,819.11 L533.65,820.02 L534.31,820.99 L534.90,822.02 L535.42,823.12 L535.87,824.29 L536.25,825.55 L536.56,826.91 L536.81,828.40 L536.98,830.09 L537.09,832.12 L537.12,835.57 L537.12,835.57 L537.08,837.75 L536.96,839.29 L536.76,840.64 L536.48,841.88 L536.12,843.04 L535.68,844.13 L535.16,845.16 L534.57,846.14 L533.89,847.07 L533.14,847.96 L532.31,848.80 L531.41,849.60 L530.43,850.36 L529.37,851.07 L528.23,851.75 L527.03,852.38 L525.74,852.97 L524.38,853.51 L522.94,854.02 L521.43,854.48 L519.83,854.90 L518.16,855.27 L516.39,855.60 L514.54,855.89 L512.57,856.13 L510.49,856.33 L508.26,856.49 L505.83,856.60 L503.08,856.67 L499.15,856.69 L495.22,856.67 L492.47,856.60 L490.04,856.49 L487.81,856.33 L485.73,856.13 L483.76,855.89 L481.91,855.60 L480.14,855.27 L478.47,854.90 L476.87,854.48 L475.36,854.02 L473.92,853.51 L472.56,852.97 L471.27,852.38 L470.07,851.75 L468.93,851.07 L467.87,850.36 L466.89,849.60 L465.99,848.80 L465.16,847.96 L464.41,847.07 L463.73,846.14 L463.14,845.16 L462.62,844.13 L462.18,843.04 L461.82,841.88 L461.54,840.64 L461.34,839.29 L461.22,837.75 L461.18,835.57 Z" class="l"/>
<g transform="translate(47,218)">
<path d="M432.4,579 L432.4,535.4 L471.4,535.4 L471.4,579 L470.4,580 L470.4,607.4 L433.6,607.4 L433.6,580 Z" class="s" stroke="#4a4a4a" style="stroke:#4a4a4a"/>
<rect x="446.6" y="517.6" width="11.0" height="17.799999999999955" class="s" style="stroke:#222;stroke-width:1.25"/>
<line x1="446.6" y1="518.5" x2="457.6" y2="518.5" stroke="#222" stroke-width="2.2"/>
</g>
<line x1="409.25" y1="95" x2="409.25" y2="200" class="r"/>
<line x1="412.25" y1="95" x2="412.25" y2="200" class="r"/>
<line x1="449.75" y1="117" x2="449.75" y2="517.6" class="r"/>
<line x1="452.75" y1="117" x2="452.75" y2="517.6" class="r"/>
<line x1="497.5" y1="124" x2="497.5" y2="735.8" class="r"/>
<line x1="500.5" y1="124" x2="500.5" y2="735.8" class="r"/>
<line x1="534.7" y1="90" x2="534.7" y2="248" class="r"/>
<line x1="537.7" y1="90" x2="537.7" y2="248" class="r"/>
<line x1="589.7" y1="94" x2="589.7" y2="427.5" class="r"/>
<line x1="592.7" y1="94" x2="592.7" y2="427.5" class="r"/>
<rect x="408.95" y="92.7" width="3.6" height="6" class="s" style="stroke:#333;stroke-width:1.1"/>
<line x1="408.95" y1="99.2" x2="412.55" y2="99.2" stroke="#222" stroke-width="1.3"/>
<ellipse cx="410.75" cy="92.7" rx="5.6" ry="2.2" style="fill:#e8e8e8;stroke:#1a1a1a;stroke-width:1.5"/>
<rect x="449.3" y="114.5" width="3.6" height="6" class="s" style="stroke:#333;stroke-width:1.1"/>
<line x1="449.3" y1="121.0" x2="452.90000000000003" y2="121.0" stroke="#222" stroke-width="1.3"/>
<ellipse cx="451.1" cy="114.5" rx="5.6" ry="2.2" style="fill:#e8e8e8;stroke:#1a1a1a;stroke-width:1.5"/>
<rect x="497.0" y="122" width="3.6" height="6" class="s" style="stroke:#333;stroke-width:1.1"/>
<line x1="497.0" y1="128.5" x2="500.6" y2="128.5" stroke="#222" stroke-width="1.3"/>
<ellipse cx="498.8" cy="122" rx="5.6" ry="2.2" style="fill:#e8e8e8;stroke:#1a1a1a;stroke-width:1.5"/>
<rect x="534.0" y="88" width="3.6" height="6" class="s" style="stroke:#333;stroke-width:1.1"/>
<line x1="534.0" y1="94.5" x2="537.5999999999999" y2="94.5" stroke="#222" stroke-width="1.3"/>
<ellipse cx="535.8" cy="88" rx="5.6" ry="2.2" style="fill:#e8e8e8;stroke:#1a1a1a;stroke-width:1.5"/>
<rect x="589.4000000000001" y="92" width="3.6" height="6" class="s" style="stroke:#333;stroke-width:1.1"/>
<line x1="589.4000000000001" y1="98.5" x2="593.0" y2="98.5" stroke="#222" stroke-width="1.3"/>
<ellipse cx="591.2" cy="92" rx="5.6" ry="2.2" style="fill:#e8e8e8;stroke:#1a1a1a;stroke-width:1.5"/>
<polyline points="380.5,50 380.5,44.8 614.5,44.8 614.5,50" fill="none" stroke="#333" stroke-width="1.4"/>
<polyline points="326,78.7 320.5,78.7 320.5,516.9 326,516.9" fill="none" stroke="#111" stroke-width="1.15"/>
<polyline points="320.5,103.2 326,103.2" fill="none" stroke="#111" stroke-width="1.15"/>
<polyline points="785,54.5 785,428.6" fill="none" stroke="#8a8a8a" stroke-width="1.8"/>
<polyline points="785,523.4 785,898.5" fill="none" stroke="#8a8a8a" stroke-width="1.8"/>
<polyline points="779,54.5 785.5,54.5" fill="none" stroke="#111" stroke-width="1.2"/>
<polyline points="779,898.5 785.5,898.5" fill="none" stroke="#111" stroke-width="1.2"/>
<polyline points="649.2,427.4 654.5,427.4 654.5,650.4 649.2,650.4" fill="none" stroke="#111" stroke-width="1.2"/>
<polyline points="543,663.2 543,668.5 636.6,668.5 636.6,663.2" fill="none" stroke="#111" stroke-width="1.1"/>
<polyline points="600.7,801.2 606,801.2 606,898.2 600.7,898.2" fill="none" stroke="#6a6a6a" stroke-width="1.5"/>
<polyline points="415.8,910.3 415.8,915.5 581.6,915.5 581.6,910.3" fill="none" stroke="#555" stroke-width="1.2"/>
<polyline points="363.5,948.6 363.5,954.5 637.5,954.5 637.5,948.6" fill="none" stroke="#111" stroke-width="1.1"/>
<text x="473" y="33.6" textLength="50.39999999999998" lengthAdjust="spacingAndGlyphs" font-size="24">11.8″</text>
<text x="252.8" y="99.7" textLength="37.599999999999966" lengthAdjust="spacingAndGlyphs" font-size="24">1.5″</text>
<text x="220.7" y="302.3" textLength="36.900000000000034" lengthAdjust="spacingAndGlyphs" font-size="24">60″</text>
<text x="187.9" y="330.4" textLength="103.20000000000002" lengthAdjust="spacingAndGlyphs" font-size="24">Adjustable</text>
<text x="756.2" y="471.9" textLength="50.799999999999955" lengthAdjust="spacingAndGlyphs" font-size="24">MAX</text>
<text x="751.5" y="499" textLength="59.89999999999998" lengthAdjust="spacingAndGlyphs" font-size="24">73.6″</text>
<text x="669" y="548" textLength="48.5" lengthAdjust="spacingAndGlyphs" font-size="24">12.1″</text>
<text x="570" y="700" textLength="39.799999999999955" lengthAdjust="spacingAndGlyphs" font-size="24">5.1″</text>
<text x="619" y="858.5" textLength="41" lengthAdjust="spacingAndGlyphs" font-size="24">5.3″</text>
<text x="487.2" y="944.8" textLength="22.400000000000034" lengthAdjust="spacingAndGlyphs" font-size="24">9″</text>
<text x="474.4" y="981.6" textLength="50.60000000000002" lengthAdjust="spacingAndGlyphs" font-size="24">17.7″</text>
</svg></body></html>
